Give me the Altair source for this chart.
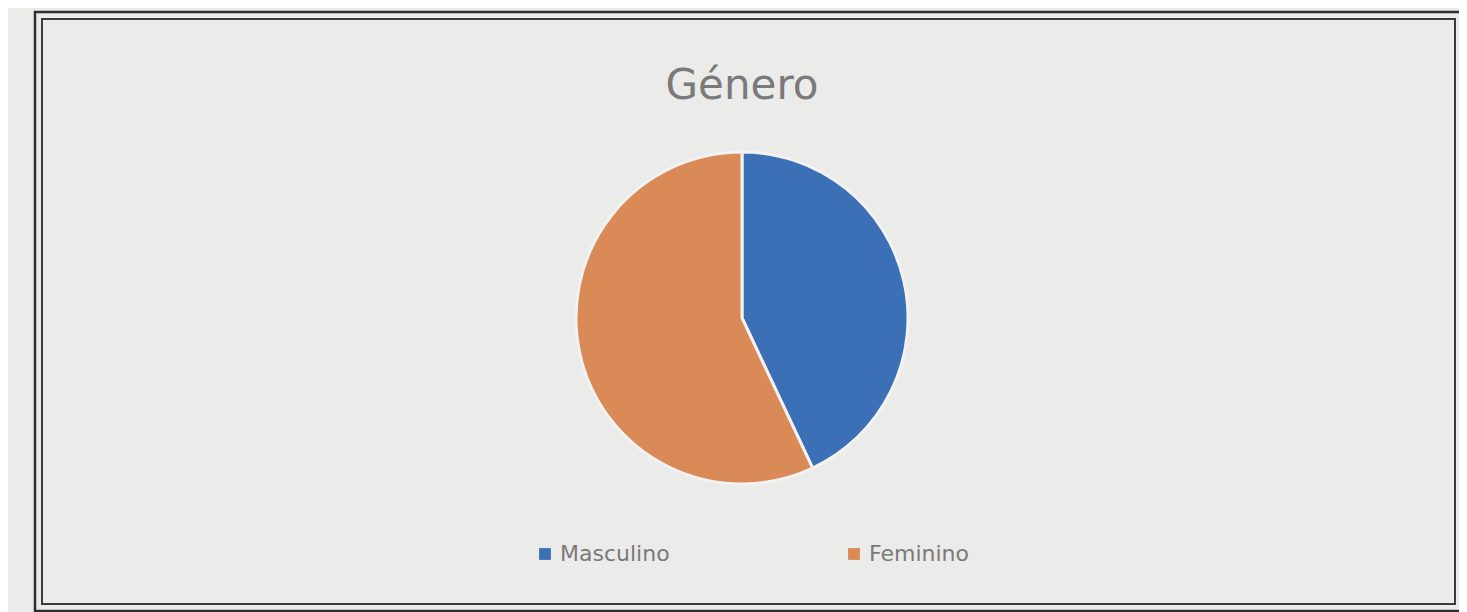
import altair as alt
import pandas as pd

categories = ["Masculino", "Feminino"]
values = [43, 57]
colors = ["#3c70b6", "#d98a57"]
title_text = "Género"

df = pd.DataFrame({"genero": categories, "valor": values, "ordem": [0, 1]})

W, H = 1451, 604
frame_data = alt.Data(values=[{}])

outer = alt.Chart(frame_data).mark_rect(filled=False, stroke="#2e2e2e", strokeWidth=2.5).encode(
    x=alt.value(27), x2=alt.value(1453), y=alt.value(4), y2=alt.value(603)
)
inner = alt.Chart(frame_data).mark_rect(filled=False, stroke="#3a3a3a", strokeWidth=2).encode(
    x=alt.value(34), x2=alt.value(1447), y=alt.value(11), y2=alt.value(596)
)

title = alt.Chart(frame_data).mark_text(
    text=title_text, font="DejaVu Sans", fontSize=42, color="#7a7a7a", align="center", baseline="middle"
).encode(x=alt.value(734), y=alt.value(78))

pie = alt.Chart(df).mark_arc(outerRadius=166, stroke="#f2f2f2", strokeWidth=3).encode(
    theta=alt.Theta("valor:Q", stack=True),
    order=alt.Order("ordem:Q"),
    color=alt.Color(
        "genero:N",
        sort=categories,
        scale=alt.Scale(domain=categories, range=colors),
        legend=alt.Legend(
            title=None, orient="none", legendX=526, legendY=535, direction="horizontal",
            symbolType="square", symbolSize=140, labelFontSize=22, labelFont="DejaVu Sans",
            labelColor="#7a7a7a", columnPadding=173, symbolStrokeWidth=0,
        ),
    ),
    x=alt.value(734), y=alt.value(310),
)

chart = alt.layer(outer, inner, title, pie).properties(
    width=W, height=H, padding=0, autosize=alt.AutoSizeParams(type="none"),
    background="#ebebea",
).configure_view(stroke=None)

chart.save("out.html", embed_options={"renderer": "svg", "actions": False})
